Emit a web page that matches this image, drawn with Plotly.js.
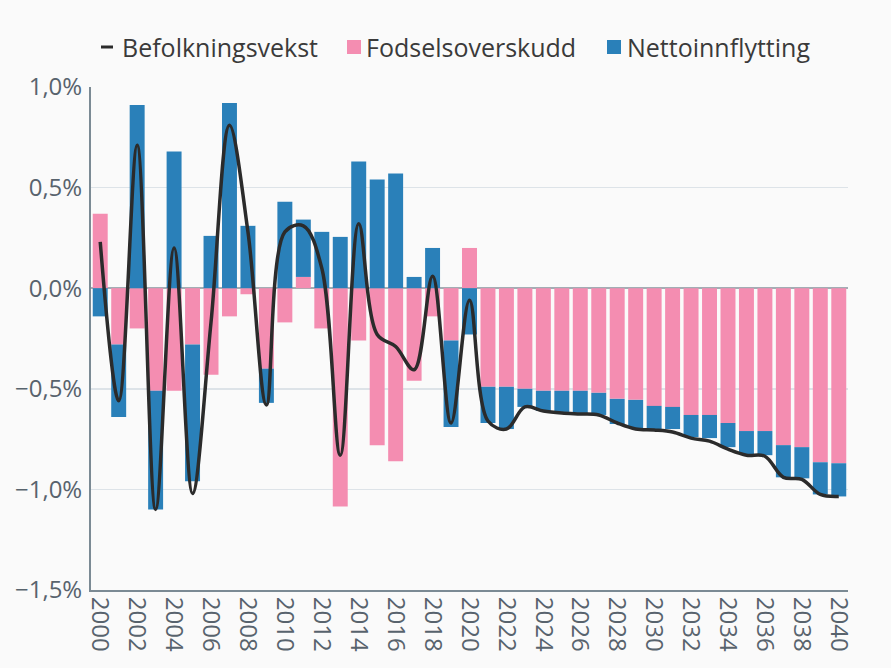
<!DOCTYPE html>
<html>
<head>
<meta charset="utf-8">
<script src="https://cdn.plot.ly/plotly-3.0.1.min.js"></script>
<style>html,body{margin:0;padding:0;background:#fafafa;}#chart{width:891px;height:668px;}</style>
</head>
<body>
<div id="chart"></div>
<script>
const years = [];
for (let y = 2000; y <= 2040; y++) years.push(y);

const fodselsoverskudd = [0.37, -0.28, -0.20, -0.51, -0.51, -0.28, -0.43, -0.14, -0.03, -0.40,
  -0.17, 0.056, -0.20, -1.085, -0.26, -0.78, -0.86, -0.46, -0.14, -0.26,
  0.20, -0.49, -0.49, -0.50, -0.51, -0.51, -0.51, -0.52, -0.55, -0.555,
  -0.585, -0.59, -0.63, -0.63, -0.67, -0.71, -0.71, -0.78, -0.79, -0.865, -0.87];

const nettoinnflytting = [-0.14, -0.36, 0.91, -0.59, 0.68, -0.68, 0.26, 0.92, 0.31, -0.17,
  0.43, 0.285, 0.28, 0.255, 0.63, 0.54, 0.57, 0.056, 0.20, -0.43,
  -0.23, -0.18, -0.21, -0.09, -0.10, -0.105, -0.11, -0.11, -0.125, -0.14,
  -0.115, -0.11, -0.11, -0.115, -0.12, -0.115, -0.12, -0.16, -0.155, -0.16, -0.165];

const befolkningsvekst = [0.23, -0.56, 0.71, -1.10, 0.20, -1.02, -0.17, 0.81, 0.28, -0.58,
  0.28, 0.31, 0.10, -0.83, 0.32, -0.23, -0.29, -0.405, 0.06, -0.67,
  -0.06, -0.66, -0.70, -0.59, -0.61, -0.62, -0.625, -0.63, -0.67, -0.70,
  -0.705, -0.715, -0.745, -0.76, -0.80, -0.83, -0.835, -0.94, -0.95, -1.025, -1.035];

const seriesNames = ['Befolkningsvekst', 'Fodselsoverskudd', 'Nettoinnflytting'];
const colors = {line: '#2b2b2b', pink: '#f48db1', blue: '#2a80b9'};

const traces = [
  {type: 'bar', name: seriesNames[1], x: years, y: fodselsoverskudd, marker: {color: colors.pink}, hovertemplate: '%{x}: %{y:.2f}%<extra></extra>'},
  {type: 'bar', name: seriesNames[2], x: years, y: nettoinnflytting, marker: {color: colors.blue}, hovertemplate: '%{x}: %{y:.2f}%<extra></extra>'},
  {type: 'scatter', mode: 'lines', name: seriesNames[0], x: years, y: befolkningsvekst,
   line: {color: colors.line, width: 3.5, shape: 'spline', smoothing: 1}, hovertemplate: '%{x}: %{y:.2f}%<extra></extra>'}
];

// custom legend (pixel positions converted to paper coords)
const L = 91, R = 848, T = 87, B = 590;
const px = v => (v - L) / (R - L);
const py = v => (B - v) / (B - T);
const legendFont = {family: 'Open Sans, sans-serif', size: 25, color: '#3a3a3a'};
const legendItems = [
  {text: seriesNames[0], tx: 120},
  {text: seriesNames[1], tx: 364},
  {text: seriesNames[2], tx: 625}
];
const annotations = legendItems.map(it => ({
  xref: 'paper', yref: 'paper', x: px(it.tx), y: py(47), xanchor: 'left', yanchor: 'middle',
  text: it.text, showarrow: false, font: legendFont
}));
const shapes = [
  {type: 'line', xref: 'paper', yref: 'paper', x0: px(101), x1: px(113), y0: py(47), y1: py(47), line: {color: colors.line, width: 3}},
  {type: 'rect', xref: 'paper', yref: 'paper', x0: px(347), x1: px(361), y0: py(40), y1: py(54), fillcolor: colors.pink, line: {width: 0}},
  {type: 'rect', xref: 'paper', yref: 'paper', x0: px(607), x1: px(621), y0: py(40), y1: py(54), fillcolor: colors.blue, line: {width: 0}}
];

const tickFont = {family: 'Open Sans, sans-serif', size: 24, color: '#58636d'};

const layout = {
  width: 891, height: 668,
  paper_bgcolor: '#fafafa', plot_bgcolor: '#fafafa',
  margin: {l: L, r: 891 - R, t: T, b: 668 - B},
  barmode: 'relative', bargap: 0.19,
  showlegend: false,
  separators: ',.',
  font: {family: 'Open Sans, sans-serif'},
  xaxis: {
    range: [1999.5, 2040.5], tickmode: 'linear', tick0: 2000, dtick: 2, tickangle: 90,
    tickfont: tickFont, showgrid: false, showline: true, linecolor: '#7b8a94', linewidth: 2,
    ticks: '', zeroline: false, fixedrange: true
  },
  yaxis: {
    range: [-1.5, 1.0], dtick: 0.5, tick0: 0, tickformat: '.1f', ticksuffix: '%',
    tickfont: tickFont, showgrid: true, gridcolor: '#dde3e8', gridwidth: 1.5,
    zeroline: true, zerolinecolor: '#a3adb4', zerolinewidth: 1.5,
    showline: true, linecolor: '#7b8a94', linewidth: 2, ticks: 'outside', ticklen: 2, tickcolor: 'rgba(0,0,0,0)',
    fixedrange: true
  },
  annotations: annotations,
  shapes: shapes
};

Plotly.newPlot('chart', traces, layout, {displayModeBar: false, staticPlot: true});
</script>
</body>
</html>
